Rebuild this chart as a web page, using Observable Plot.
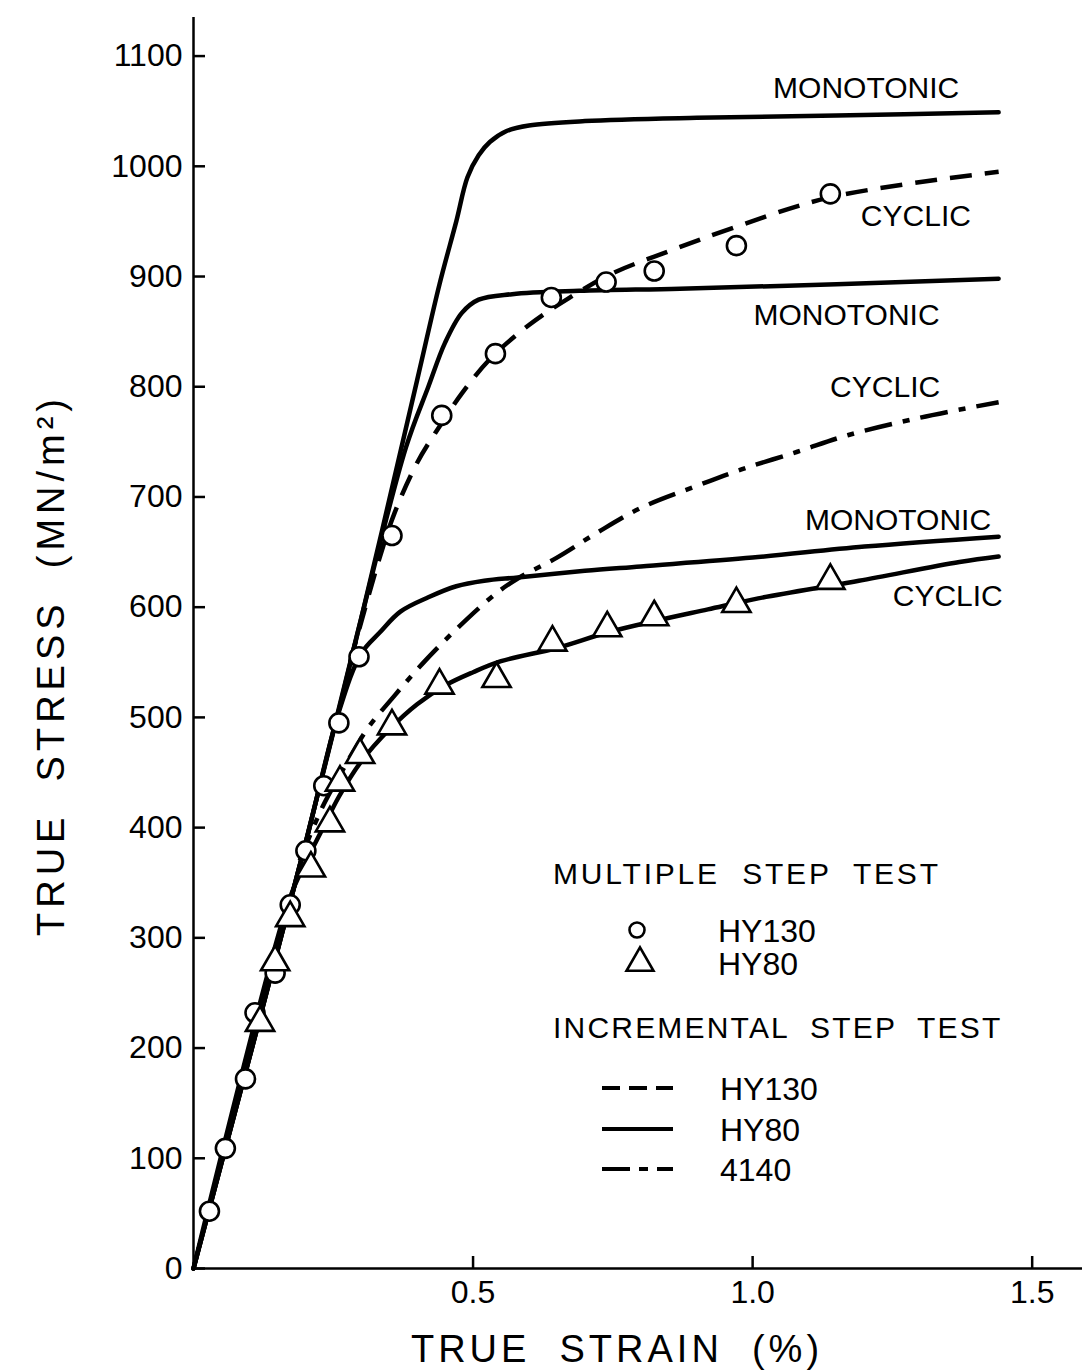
<!DOCTYPE html>
<html><head><meta charset="utf-8">
<script src="https://cdn.jsdelivr.net/npm/d3@7"></script>
<script src="https://cdn.jsdelivr.net/npm/@observablehq/plot@0.6"></script>
<style>
html,body{margin:0;padding:0;background:#fff;}
#wrap{width:1082px;height:1372px;}
</style></head><body><div id="wrap"></div>
<script>
// ---- data (true strain %, true stress MN/m^2) ----
const mono4140 = [[0,0],[0.2,385],[0.3,590],[0.4,806],[0.44,893],[0.47,950],[0.49,990],[0.51,1010],[0.53,1022],[0.56,1032],[0.6,1037],[0.7,1041],[0.9,1044],[1.15,1046],[1.44,1049]];
const monoHY130 = [[0,0],[0.2,385],[0.3,590],[0.38,745],[0.42,800],[0.45,840],[0.48,867],[0.51,879],[0.57,884],[0.69,887],[0.87,889],[1.15,893],[1.44,898]];
const monoHY80 = [[0,0],[0.2,385],[0.26,505],[0.3,558],[0.333,577],[0.37,596],[0.42,609],[0.47,619],[0.52,624],[0.58,627],[0.7,633],[0.8,637],[1.0,645],[1.2,655],[1.44,664]];
const cycHY130 = [[0.28,550],[0.333,645],[0.36,686],[0.40,731],[0.44,764],[0.48,794],[0.53,825],[0.6,856],[0.67,880],[0.75,903],[0.84,921],[0.97,945],[1.14,972],[1.44,995]];
const cycHY80 = [[0,0],[0.17,333],[0.2,368],[0.23,398],[0.26,428],[0.3,460],[0.35,489],[0.4,512],[0.45,529],[0.5,541],[0.55,551],[0.65,563],[0.74,577],[0.83,588],[0.92,598],[1.01,608],[1.19,624],[1.37,641],[1.44,646]];
const cyc4140 = [[0.19,370],[0.23,418],[0.27,455],[0.31,489],[0.36,520],[0.41,549],[0.47,580],[0.54,612],[0.58,626],[0.65,645],[0.72,667],[0.8,690],[0.9,710],[0.98,725],[1.08,741],[1.17,756],[1.3,772],[1.44,786]];
// multiple step test points
const ptsHY130 = [[0.0285,52],[0.057,109],[0.093,172],[0.11,232],[0.146,268],[0.173,330],[0.201,379],[0.233,438],[0.26,495],[0.296,555],[0.355,665],[0.444,774],[0.54,830],[0.64,881],[0.738,895],[0.824,905],[0.971,928],[1.139,975]];
const ptsHY80 = [[0.119,223],[0.146,278],[0.173,318],[0.21,363],[0.244,404],[0.262,441],[0.298,466],[0.355,492],[0.44,529],[0.542,535],[0.642,568],[0.74,581],[0.824,591],[0.971,603],[1.139,624]];
// curve annotations
const annotations = [
  {x:1.203, y:1071, label:"MONOTONIC"},
  {x:1.292, y:955, label:"CYCLIC"},
  {x:1.168, y:865, label:"MONOTONIC"},
  {x:1.237, y:799, label:"CYCLIC"},
  {x:1.26, y:679, label:"MONOTONIC"},
  {x:1.349, y:610, label:"CYCLIC"}
];
const yTicks = [0,100,200,300,400,500,600,700,800,900,1000,1100];
const xTicks = [0.5,1.0,1.5];
const xTitle = "TRUE  STRAIN  (%)";
const yTitle = "TRUE  STRESS  (MN/m²)";
const legendGroups = ["MULTIPLE  STEP  TEST","INCREMENTAL  STEP  TEST"];
const legendMultiple = ["HY130","HY80"];
const legendIncremental = ["HY130","HY80","4140"];

const FONT = "'Liberation Sans', Arial, sans-serif";
const lineBase = {x:"0", y:"1", stroke:"black", strokeWidth:4.5, curve:"catmull-rom", strokeLinecap:"round", strokeLinejoin:"round"};

const chart = Plot.plot({
  width:1082, height:1372,
  marginLeft:193, marginRight:0, marginTop:17, marginBottom:104,
  x:{domain:[0,1.59]},
  y:{domain:[0,1135]},
  style:{fontFamily:FONT, background:"white", color:"black", overflow:"visible"},
  marks:[
    Plot.axisY(yTicks, {anchor:"left", tickSize:-12, tickPadding:23, fontSize:32, label:null, strokeWidth:2.5, tickFormat:d=>String(d)}),
    Plot.axisX(xTicks, {anchor:"bottom", tickSize:-12, tickPadding:24, fontSize:32, label:null, strokeWidth:2.5, tickFormat:d=>d.toFixed(1)}),
    Plot.ruleX([0], {strokeWidth:2.5}),
    Plot.ruleY([0], {strokeWidth:2.5}),
    Plot.line(mono4140, lineBase),
    Plot.line(monoHY130, lineBase),
    Plot.line(monoHY80, lineBase),
    Plot.line(cycHY80, lineBase),
    Plot.line(cycHY130, {...lineBase, strokeDasharray:"22,13", strokeLinecap:"butt"}),
    Plot.line(cyc4140, {...lineBase, strokeDasharray:"28,11,7,11", strokeLinecap:"butt"}),
    Plot.dot(ptsHY130, {x:"0", y:"1", r:9.5, symbol:"circle", fill:"white", stroke:"black", strokeWidth:2.6}),
    Plot.dot(ptsHY80, {x:"0", y:"1", r:10.5, symbol:"triangle", fill:"white", stroke:"black", strokeWidth:2.6}),
    Plot.text(annotations, {x:"x", y:"y", text:"label", fontSize:30, fill:"black"})
  ]
});
document.getElementById("wrap").appendChild(chart);

// ---- titles and legend (overlay in the same SVG) ----
const svg = d3.select(chart);
const g = svg.append("g").attr("font-family", FONT).attr("fill","black").attr("text-anchor","start");
g.append("text").attr("x",617).attr("y",1362).attr("text-anchor","middle")
  .attr("font-size",38).style("letter-spacing","4px").style("white-space","pre").text(xTitle);
g.append("text").attr("transform","translate(64,665) rotate(-90)").attr("text-anchor","middle")
  .attr("font-size",38).style("letter-spacing","5px").style("white-space","pre").text(yTitle);

const lg = g.append("g").attr("text-anchor","start");
lg.append("text").attr("x",553).attr("y",884).attr("font-size",30).style("white-space","pre").style("letter-spacing","2.8px").text(legendGroups[0]);
lg.append("text").attr("x",553).attr("y",1038).attr("font-size",30).style("white-space","pre").style("letter-spacing","2.2px").text(legendGroups[1]);
const sym = [0,1].map(i=>({y:[930,963][i], name:legendMultiple[i]}));
lg.append("circle").attr("cx",637).attr("cy",930).attr("r",7.5).attr("fill","white").attr("stroke","black").attr("stroke-width",2.6);
lg.append("path").attr("d", d3.symbol(d3.symbolTriangle, Math.PI*10*10)()).attr("transform","translate(640,963)").attr("fill","white").attr("stroke","black").attr("stroke-width",2.6);
sym.forEach(s=>lg.append("text").attr("x",718).attr("y",s.y).attr("dy","0.36em").attr("font-size",32).text(s.name));
const incY = [1088,1129,1169];
const incDash = ["18,9","none","28,9,9,9"];
incY.forEach((y,i)=>{
  lg.append("line").attr("x1",602).attr("x2",673).attr("y1",y).attr("y2",y).attr("stroke","black").attr("stroke-width",4).attr("stroke-dasharray",incDash[i]);
  lg.append("text").attr("x",720).attr("y",y).attr("dy","0.36em").attr("font-size",32).text(legendIncremental[i]);
});
</script></body></html>
